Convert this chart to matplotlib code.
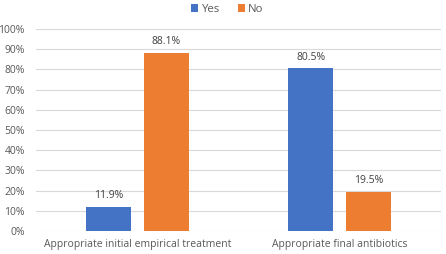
import numpy as np
from matplotlib import pyplot as plt
from matplotlib.ticker import PercentFormatter

categories = ["Appropriate initial empirical treatment", "Appropriate final antibiotics"]
yes_values = [11.9, 80.5]
no_values = [88.1, 19.5]

plt.rcParams["font.family"] = ["Open Sans", "DejaVu Sans"]

fig = plt.figure(figsize=(4.46, 2.54), dpi=100)
ax = fig.add_axes([0.0807, 0.0906, 0.9081, 0.7952])

x = np.arange(len(categories))
width = 0.222
offset = 0.143

bars_yes = ax.bar(x - offset, yes_values, width, color="#4472C4", label="Yes", zorder=3)
bars_no = ax.bar(x + offset, no_values, width, color="#ED7D31", label="No", zorder=3)

for bars in (bars_yes, bars_no):
    ax.bar_label(bars, labels=[f"{v:.1f}%" for v in bars.datavalues],
                 padding=4, fontsize=7.5, color="#404040")

ax.set_xlim(-0.5, 1.5)
ax.set_ylim(0, 100)
ax.set_yticks(range(0, 101, 10))
ax.yaxis.set_major_formatter(PercentFormatter(decimals=0))
ax.set_xticks(x)
ax.set_xticklabels(categories)
ax.tick_params(axis="both", length=0, labelsize=7.5, labelcolor="#595959")
ax.tick_params(axis="x", pad=6)
ax.tick_params(axis="y", pad=8)
ax.grid(True, axis="y", color="#d9d9d9", linewidth=0.8, zorder=0)
for s in ax.spines.values():
    s.set_visible(False)

fig.legend(loc="upper center", bbox_to_anchor=(0.51, 1.025), ncol=2, frameon=False,
           fontsize=8.2, handlelength=0.6, handleheight=0.6, handletextpad=0.3,
           columnspacing=1.6, labelcolor="#595959")

fig.savefig("out.png", dpi=100)
